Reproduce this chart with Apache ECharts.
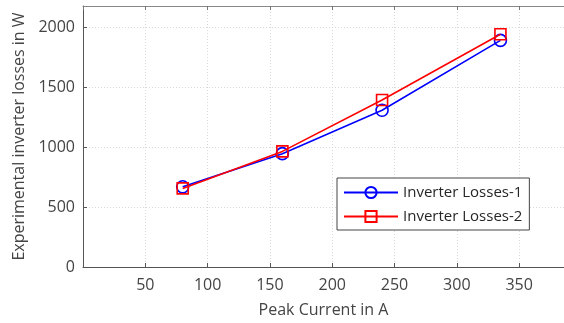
<!DOCTYPE html>
<html>
<head>
<meta charset="utf-8">
<script src="https://cdn.jsdelivr.net/npm/echarts@6/dist/echarts.min.js"></script>
<style>
  html, body { margin: 0; padding: 0; background: #fff; }
  #chart { width: 564px; height: 323px; }
</style>
</head>
<body>
<div id="chart"></div>
<script>
// values
const peakCurrent = [80, 160, 240, 335]
const losses1 = [670, 947, 1310, 1894]
const losses2 = [657, 966, 1396, 1945]
const seriesNames = ['Inverter Losses-1', 'Inverter Losses-2']

const font = 'Open Sans'
const axisGray = '#555'
const textGray = '#444'
const gridLine = {show: true, lineStyle: {color: '#d9d9d9', type: [1, 2], width: 1}}

const pairs = (xs, ys) => xs.map((x, i) => [x, ys[i]])
const plain = v => String(v)

let chart = echarts.init(document.getElementById('chart'))

chart.setOption({
    animation: false,
    textStyle: {fontFamily: font},
    grid: {left: 83, top: 6, right: 0, bottom: 56},
    legend: {
        orient: 'vertical',
        left: 337, top: 178,
        padding: [7, 7, 6, 6],
        itemWidth: 54, itemHeight: 14, itemGap: 9,
        backgroundColor: '#fff',
        borderColor: '#444', borderWidth: 1,
        textStyle: {fontFamily: font, fontSize: 15, color: '#262626'},
        data: seriesNames
    },
    xAxis: [
        {
            type: 'value', position: 'bottom',
            min: 0, max: 386, interval: 50,
            name: 'Peak Current in A', nameLocation: 'middle', nameGap: 35,
            nameTextStyle: {fontSize: 16, color: textGray},
            axisLine: {show: true, lineStyle: {color: axisGray, width: 1}},
            axisTick: {show: true, inside: true, length: 4, lineStyle: {color: axisGray}},
            axisLabel: {fontSize: 16, color: textGray, margin: 10, showMinLabel: false, showMaxLabel: false, formatter: plain},
            splitLine: gridLine
        },
        {
            type: 'value', position: 'top',
            min: 0, max: 386, interval: 50,
            axisLine: {show: true, lineStyle: {color: '#888', width: 1}},
            axisTick: {show: true, inside: true, length: 4, lineStyle: {color: '#777'}},
            axisLabel: {show: false},
            splitLine: {show: false}
        }
    ],
    yAxis: {
        type: 'value',
        min: 0, max: 2181, interval: 500,
        name: 'Experimental inverter losses in W', nameLocation: 'middle', nameGap: 48,
        nameTextStyle: {fontSize: 16, color: textGray},
        axisLine: {show: true, lineStyle: {color: axisGray, width: 1}},
        axisTick: {show: true, inside: true, length: 4, lineStyle: {color: axisGray}},
        axisLabel: {fontSize: 16, color: textGray, margin: 8, showMaxLabel: false, formatter: plain},
        splitLine: gridLine
    },
    series: [
        {
            name: seriesNames[0], type: 'line',
            data: pairs(peakCurrent, losses1),
            symbol: 'circle', symbolSize: 12,
            lineStyle: {color: '#0000ff', width: 1.6},
            itemStyle: {color: 'rgba(0,0,0,0)', borderColor: '#0000ff', borderWidth: 1.6},
            z: 2
        },
        {
            name: seriesNames[1], type: 'line',
            data: pairs(peakCurrent, losses2),
            symbol: 'rect', symbolSize: 11,
            lineStyle: {color: '#ff0000', width: 1.6},
            itemStyle: {color: 'rgba(0,0,0,0)', borderColor: '#ff0000', borderWidth: 1.6},
            z: 3
        }
    ]
})
</script>
</body>
</html>
